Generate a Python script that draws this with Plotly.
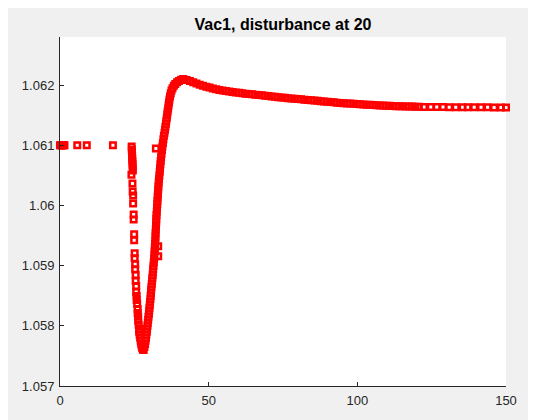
import plotly.graph_objects as go

# ---- data (time, Vac1) ----
pre_t = [0, 0.25, 0.5, 0.75, 1.0, 1.25, 1.5, 5.8, 9.0, 17.8]
pre_v = [1.061] * 10

drop_t = [24.1, 24.15, 24.2, 24.25, 24.3, 24.35, 24.4, 24.45, 24.5,
          24.03, 24.37, 24.44, 24.60, 24.60, 24.77, 24.77, 24.94, 24.94, 25.11,
          25.11, 25.28, 25.28, 25.45, 25.45, 25.62, 25.62, 25.78, 25.78, 25.95,
          26.12, 26.12, 26.29, 26.29, 26.46, 26.63, 26.63, 26.79, 26.96, 27.13,
          27.30, 27.47, 27.64, 27.91, 28.14]
drop_v = [1.06098, 1.06093, 1.06088, 1.06083, 1.06078, 1.06073, 1.06068, 1.06063, 1.06058,
          1.060512, 1.060364, 1.060231, 1.060165, 1.060033, 1.059851, 1.059768, 1.059521, 1.059421, 1.059207,
          1.059124, 1.059025, 1.058942, 1.058843, 1.058744, 1.058661, 1.058562, 1.058496, 1.058430, 1.058364,
          1.058281, 1.058215, 1.058149, 1.058083, 1.058017, 1.057950, 1.057901, 1.057851, 1.057802, 1.057752,
          1.057702, 1.057661, 1.057628, 1.057603, 1.057598]

rise_t = [28.41, 28.61, 28.78, 28.92, 29.05, 29.19, 29.29, 29.42, 29.52, 29.66,
          29.76, 29.90, 30.00, 30.10, 30.20, 30.30, 30.43, 30.50, 30.60, 30.67,
          30.77, 30.87, 30.97, 31.07, 31.17, 31.27, 31.34, 31.44,
          31.55, 31.65, 31.75, 31.82, 31.89, 31.99, 32.05, 32.12, 32.15, 32.22,
          32.29, 32.36, 32.39, 32.46, 32.56, 32.62, 32.73, 32.76, 32.86, 32.93,
          33.03, 33.10, 33.20, 33.30, 33.43, 33.54, 33.64, 33.77, 33.87, 34.01,
          34.14, 34.28, 34.45, 34.61, 34.78, 34.95,
          35.15, 35.32, 35.46, 35.63, 35.76, 35.93, 36.06, 36.20, 36.37, 36.50,
          36.67, 36.80, 37.00, 37.24, 37.51, 37.85, 38.29, 38.76, 39.37, 40.01,
          40.71, 41.46]
rise_v = [1.05765, 1.05770, 1.05775, 1.05780, 1.05785, 1.05790, 1.05795, 1.05800, 1.05805, 1.05810,
          1.05815, 1.05820, 1.05825, 1.05830, 1.05835, 1.05840, 1.05845, 1.05850, 1.05855, 1.05860,
          1.05865, 1.05870, 1.05875, 1.05880, 1.05885, 1.05890, 1.05895, 1.05900,
          1.05906, 1.05912, 1.05918, 1.05924, 1.05930, 1.05936, 1.05942, 1.05948, 1.05954, 1.05960,
          1.05966, 1.05972, 1.05978, 1.05984, 1.05990, 1.05996, 1.06002, 1.06008, 1.06014, 1.06020,
          1.06026, 1.06032, 1.06038, 1.06044, 1.06050, 1.06056, 1.06062, 1.06068, 1.06074, 1.06080,
          1.06086, 1.06092, 1.06098, 1.06104, 1.06110, 1.06116,
          1.06121, 1.06126, 1.06131, 1.06136, 1.06141, 1.06146, 1.06151, 1.06156, 1.06161, 1.06166,
          1.06171, 1.06176, 1.06181, 1.06186, 1.06191, 1.06195, 1.06199, 1.06202, 1.06205, 1.06207,
          1.06209, 1.06210]

decay_t = [42.6, 43.7, 44.8, 45.9, 47.0, 48.1, 49.2, 50.3, 51.4, 52.5,
           53.6, 54.7, 55.8, 56.9, 58.0, 59.1, 60.2, 61.3, 62.4, 63.5,
           64.6, 65.7, 66.8, 67.9, 69.0, 70.1, 71.2, 72.3, 73.4, 74.5,
           75.6, 76.7, 77.8, 78.9, 80.0, 81.1, 82.2, 83.3, 84.4, 85.5,
           86.6, 87.7, 88.8, 89.9, 91.0, 92.1, 93.2, 94.3, 95.4, 96.5,
           97.6, 98.7, 99.8, 100.9, 102.0, 103.1, 104.2, 105.3, 106.4, 107.5,
           108.6, 109.7, 110.8, 111.9, 113.0, 114.1, 115.2, 116.3, 117.4, 118.5,
           119.6, 120.7,
           122.4, 124.7, 126.7, 128.8, 130.9, 133.1, 135.4, 137.1, 139.3, 141.6,
           143.8, 146.0, 148.3, 150.0]
decay_v = [1.062086, 1.062069, 1.062050, 1.062026, 1.062007, 1.061990, 1.061974, 1.061959, 1.061945, 1.061932,
           1.061921, 1.061911, 1.061901, 1.061893, 1.061886, 1.061879, 1.061873, 1.061866, 1.061858, 1.061853,
           1.061848, 1.061841, 1.061836, 1.061831, 1.061823, 1.061818, 1.061812, 1.061805, 1.061800, 1.061795,
           1.061790, 1.061783, 1.061778, 1.061773, 1.061769, 1.061764, 1.061759, 1.061754, 1.061749, 1.061744,
           1.061739, 1.061734, 1.061729, 1.061724, 1.061719, 1.061714, 1.061709, 1.061704, 1.061701, 1.061696,
           1.061693, 1.061689, 1.061686, 1.061681, 1.061678, 1.061676, 1.061673, 1.061669, 1.061666, 1.061663,
           1.061661, 1.061658, 1.061656, 1.061653, 1.061651, 1.061648, 1.061648, 1.061646, 1.061645, 1.061643,
           1.061641, 1.061641,
           1.061638, 1.061637, 1.061636, 1.061635, 1.061634, 1.061634, 1.061633, 1.061632, 1.061632, 1.061631,
           1.061631, 1.061630, 1.061630, 1.061630]

stray_t = [32.25, 33.03, 33.03]
stray_v = [1.060947, 1.059322, 1.059157]

x_ticks = [0, 50, 100, 150]
y_ticks = [1.057, 1.058, 1.059, 1.060, 1.061, 1.062]
y_labels = ["1.057", "1.058", "1.059", "1.06", "1.061", "1.062"]

t_all = pre_t + drop_t + rise_t + decay_t + stray_t
v_all = pre_v + drop_v + rise_v + decay_v + stray_v

AX = "#262626"
FONT = "Liberation Sans, Arial, Helvetica, sans-serif"

fig = go.Figure()
fig.add_trace(go.Scatter(
    x=t_all, y=v_all, mode="markers", cliponaxis=False,
    marker=dict(symbol="square-open", size=5.5, color="#ff0000",
                line=dict(width=2.5, color="#ff0000")),
    showlegend=False, hoverinfo="skip"))

# the page body adds an 8 px offset, so the figure is 528 x 412
W, H = 528, 412
L, R, T, B = 52, 30, 29, 32
pw, ph = W - L - R, H - T - B

# thin white strip at the right edge of the picture (figure px 522..528)
shapes = [dict(type="rect", xref="paper", yref="paper",
               x0=(522 - L) / pw, x1=(W - L) / pw + 0.01,
               y0=-B / ph - 0.01, y1=(H - B) / ph + 0.01,
               fillcolor="white", line=dict(width=0), layer="below")]

fig.update_layout(
    width=W, height=H,
    margin=dict(l=L, r=R, t=T, b=B, pad=0),
    paper_bgcolor="#f0f0f0", plot_bgcolor="white",
    font=dict(family=FONT, size=13, color=AX),
    title=dict(text="Vac1, disturbance at 20", x=0.5, xref="paper",
               y=1 - 16 / H, yref="container", yanchor="middle", xanchor="center",
               font=dict(family=FONT, size=16, color="#000000", weight="bold")),
    shapes=shapes,
    xaxis=dict(range=[0, 150], tickvals=x_ticks, ticks="inside", ticklen=4,
               tickcolor=AX, tickwidth=1, showline=True, linecolor=AX, linewidth=1,
               showgrid=False, zeroline=False, mirror=False, ticklabelstandoff=2,
               tickfont=dict(family=FONT, size=13, color=AX)),
    yaxis=dict(range=[1.057, 1.0628], tickvals=y_ticks, ticktext=y_labels,
               ticks="inside", ticklen=4, tickcolor=AX, tickwidth=1,
               showline=True, linecolor=AX, linewidth=1,
               showgrid=False, zeroline=False, mirror=False, ticklabelstandoff=2,
               tickfont=dict(family=FONT, size=13, color=AX)),
)

fig.write_html("out.html")
